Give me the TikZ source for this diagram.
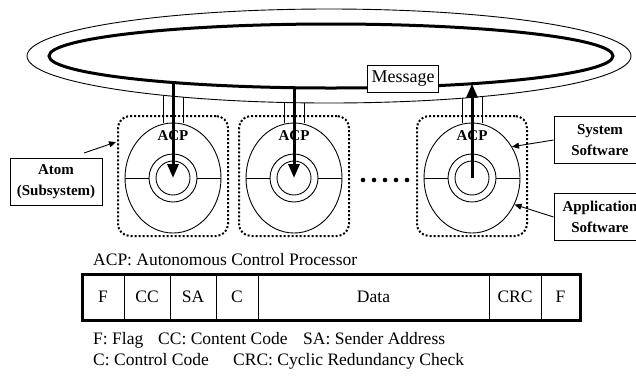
\documentclass[tikz,border=0pt]{standalone}
\usepackage{fontspec}
\setmainfont{Liberation Serif}
\usetikzlibrary{positioning,arrows.meta,fit,shapes.geometric}

\begin{document}
\begin{tikzpicture}[x=1pt, y=-1pt,
  thinline/.style={line width=0.9pt},
  busline/.style={line width=3pt},
  atombox/.style={draw, dotted, line width=2pt, rounded corners=12pt, minimum width=110pt, minimum height=120pt},
  acpoval/.style={draw, ellipse, line width=0.9pt, minimum width=96pt, minimum height=110pt, inner sep=0pt},
  swring/.style={draw, circle, line width=0.9pt, inner sep=0pt},
  acplabel/.style={font=\fontsize{15}{17}\selectfont\bfseries, inner sep=0pt},
  flow/.style={line width=3pt, -{Triangle[length=14pt, width=11pt]}},
  pointer/.style={line width=0.9pt, -{Triangle[length=7pt, width=6pt]}},
  labelbox/.style={draw, line width=0.9pt, align=center, font=\fontsize{15}{21}\selectfont\bfseries, minimum width=92pt, minimum height=47pt, inner sep=2pt},
  textline/.style={anchor=base west, inner sep=0pt, font=\fontsize{17.5}{20}\selectfont},
  cell/.style={draw, line width=0.9pt, minimum height=46pt, inner sep=0pt, outer sep=0pt, font=\fontsize{17.5}{20}\selectfont}]
\useasboundingbox (0,0) rectangle (636,376);

% Message bus
\node [draw, ellipse, thinline, minimum width=604pt, minimum height=94pt, inner sep=0pt] (outerring) at (329,56) {};
\node [draw, ellipse, busline, minimum width=564pt, minimum height=64pt, inner sep=0pt] (bus) at (331,56) {};
\node [draw, thinline, fill=white, font=\fontsize{18}{20}\selectfont, minimum height=27pt, inner xsep=4pt] (msg) at (403,79) {Message};

% Atom 1
\node [atombox] (atom1) at (173,176) {};
\node [acpoval] (acp1) at (173,178) {};
\node [swring, minimum size=48pt] (ring1) at (173,178) {};
\node [swring, minimum size=34pt] (core1) at (173,178) {};
\draw [thinline] (acp1.west) -- (ring1.west);
\draw [thinline] (ring1.east) -- (acp1.east);
\node [acplabel] (acplabel1) at (173,136) {ACP};
\coordinate (tap1) at (173,82.5);
\coordinate (pipea1) at (163,95.2);
\coordinate (pipeb1) at (183,97.1);
\draw [thinline] (pipea1) -- (pipea1 |- acp1.north);
\draw [thinline] (pipeb1) -- (pipeb1 |- acp1.north);
\draw [flow] (tap1) -- (core1.center);

% Atom 2
\node [atombox] (atom2) at (294,176) {};
\node [acpoval] (acp2) at (294,178) {};
\node [swring, minimum size=48pt] (ring2) at (294,178) {};
\node [swring, minimum size=34pt] (core2) at (294,178) {};
\draw [thinline] (acp2.west) -- (ring2.west);
\draw [thinline] (ring2.east) -- (acp2.east);
\node [acplabel] (acplabel2) at (294,136) {ACP};
\coordinate (tap2) at (294,87.7);
\coordinate (pipea2) at (284,102.4);
\coordinate (pipeb2) at (304,102.8);
\draw [thinline] (pipea2) -- (pipea2 |- acp2.north);
\draw [thinline] (pipeb2) -- (pipeb2 |- acp2.north);
\draw [flow] (tap2) -- (core2.center);

% Dots between atoms
\foreach \i in {0,...,4}
  \fill (363+11*\i,180) circle (2.3pt);

% Atom 3
\node [atombox] (atom3) at (472,176) {};
\node [acpoval] (acp3) at (472,178) {};
\node [swring, minimum size=48pt] (ring3) at (472,178) {};
\node [swring, minimum size=34pt] (core3) at (472,178) {};
\draw [thinline] (acp3.west) -- (ring3.west);
\draw [thinline] (ring3.east) -- (acp3.east);
\node [acplabel] (acplabel3) at (472,136) {ACP};
\coordinate (tap3) at (472,83.7);
\coordinate (pipea3) at (462,98.4);
\coordinate (pipeb3) at (482,96.8);
\draw [thinline] (pipea3) -- (pipea3 |- acp3.north);
\draw [thinline] (pipeb3) -- (pipeb3 |- acp3.north);
\draw [flow] (core3.center) -- (tap3);

% Labels
\node [labelbox] (atomlabel) at (56,182) {Atom\\(Subsystem)};
\coordinate (atomtail) at (84,153);
\coordinate (atomtip) at (116,142);
\draw [pointer] (atomtail) -- (atomtip);
\node [labelbox] (syslabel) at (600,140) {System\\Software};
\node [labelbox] (applabel) at (600,217) {Application\\Software};
\draw [pointer] (syslabel.west) -- (acp3.38);
\draw [pointer] (applabel.west) -- (acp3.-32);

% Message format
\node [textline] (acpnote) at (93,265) {ACP: Autonomous Control Processor};
\node [cell, minimum width=42pt, anchor=west] (flag1) at (82,297) {F};
\node [cell, minimum width=46pt, right=0pt of flag1] (cc) {CC};
\node [cell, minimum width=46pt, right=0pt of cc] (sa) {SA};
\node [cell, minimum width=42pt, right=0pt of sa] (ctrl) {C};
\node [cell, minimum width=231pt, right=0pt of ctrl] (data) {Data};
\node [cell, minimum width=52pt, right=0pt of data] (crc) {CRC};
\node [cell, minimum width=39pt, right=0pt of crc] (flag2) {F};
\node [draw, line width=3pt, inner sep=0pt, fit=(flag1) (flag2)] (frame) {};

% Legend
\node [textline] (legflag) at (93,344) {F: Flag};
\node [textline] (legcc) at (158,344) {CC: Content Code};
\node [textline] (legsa) at (303,344) {SA: Sender Address};
\node [textline] (legctrl) at (93,365) {C: Control Code};
\node [textline] (legcrc) at (233,365) {CRC: Cyclic Redundancy Check};
\end{tikzpicture}
\end{document}
